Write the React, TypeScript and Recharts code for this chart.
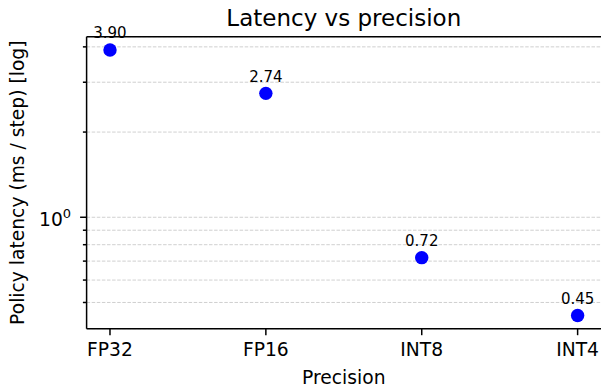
import { ScatterChart, Scatter, XAxis, YAxis, CartesianGrid } from 'recharts'

// Latency per precision
const precisions = ['FP32', 'FP16', 'INT8', 'INT4']
const latencyMs = [3.9, 2.74, 0.72, 0.45]
// log axis: one labelled decade (10^0) plus the minor ticks that carry gridlines
const yTicks = [0.5, 0.6, 0.7, 0.8, 0.9, 1, 2, 3, 4]
const xTicks = precisions.map((_, i) => i)

const data = precisions.map((name, i) => ({ idx: i, name, latency: latencyMs[i] }))

// matplotlib-ish 5% margins (in log space for y)
const logs = latencyMs.map(Math.log10)
const lMin = Math.min(...logs)
const lMax = Math.max(...logs)
const lPad = (lMax - lMin) * 0.05
const yDomain = [10 ** (lMin - lPad), 10 ** (lMax + lPad)]
const xPad = (precisions.length - 1) * 0.05
const xDomain = [-xPad, precisions.length - 1 + xPad]

const FONT = '"DejaVu Sans", sans-serif'
const INK = '#000'

function YTick({ x, y, payload }: any) {
  const major = payload.value === 1
  return (
    <g>
      <line x1={x - (major ? 6.5 : 3.7)} x2={x} y1={y} y2={y} stroke={INK} strokeWidth={1.5} />
      {major && (
        <text x={x - 15.5} y={y + 9} textAnchor="end" fontSize={18.7} fontFamily={FONT} fill={INK}>
          10<tspan dy={-8.5} fontSize={13}>0</tspan>
        </text>
      )}
    </g>
  )
}

function Dot({ cx, cy, payload }: any) {
  return (
    <g>
      <circle cx={cx} cy={cy} r={6.7} fill="#0000ff" />
      <text x={cx} y={cy - 11.5} textAnchor="middle" fontSize={15} fontFamily={FONT} fill={INK}>
        {payload.latency.toFixed(2)}
      </text>
    </g>
  )
}

export default function App() {
  return (
    <div style={{ position: 'absolute', left: 0, top: 0, background: '#fff' }}>
      <ScatterChart width={601} height={386} margin={{ top: 0, right: 0, bottom: 0, left: 0 }}>
        <CartesianGrid vertical={false} stroke="#c4c4c4" strokeWidth={0.8} strokeDasharray="3.5 1.6" />
        <XAxis
          xAxisId="top"
          orientation="top"
          type="number"
          domain={xDomain}
          height={36.7}
          tick={false}
          tickLine={false}
          axisLine={{ stroke: INK, strokeWidth: 1.5 }}
          label={{
            content: ({ viewBox }: any) => (
              <text
                x={viewBox.x + viewBox.width / 2}
                y={viewBox.y + viewBox.height - 11}
                textAnchor="middle"
                fontSize={23}
                fontFamily={FONT}
                fill={INK}
              >
                Latency vs precision
              </text>
            ),
          }}
        />
        <XAxis
          type="number"
          dataKey="idx"
          domain={xDomain}
          ticks={xTicks}
          interval={0}
          tickFormatter={(i: number) => precisions[i]}
          height={57.3}
          tickSize={6.5}
          tickMargin={8}
          tick={{ fontSize: 18.7, fontFamily: FONT, fill: INK }}
          tickLine={{ stroke: INK, strokeWidth: 1.5 }}
          axisLine={{ stroke: INK, strokeWidth: 1.5 }}
          label={{
            content: ({ viewBox }: any) => (
              <text
                x={viewBox.x + viewBox.width / 2}
                y={viewBox.y + viewBox.height - 2}
                textAnchor="middle"
                fontSize={18.7}
                fontFamily={FONT}
                fill={INK}
              >
                Precision
              </text>
            ),
          }}
        />
        <YAxis
          type="number"
          dataKey="latency"
          scale="log"
          domain={yDomain}
          ticks={yTicks}
          interval={0}
          width={86.6}
          tickSize={0}
          tickMargin={0}
          tickLine={false}
          tick={<YTick />}
          axisLine={{ stroke: INK, strokeWidth: 1.5 }}
          label={{
            content: ({ viewBox }: any) => {
              const cx = 24
              const cy = viewBox.y + viewBox.height / 2
              return (
                <text
                  x={cx}
                  y={cy}
                  transform={`rotate(-90 ${cx} ${cy})`}
                  textAnchor="middle"
                  fontSize={18.7}
                  fontFamily={FONT}
                  fill={INK}
                >
                  Policy latency (ms / step) [log]
                </text>
              )
            },
          }}
        />
        <Scatter data={data} shape={<Dot />} isAnimationActive={false} />
      </ScatterChart>
    </div>
  )
}
